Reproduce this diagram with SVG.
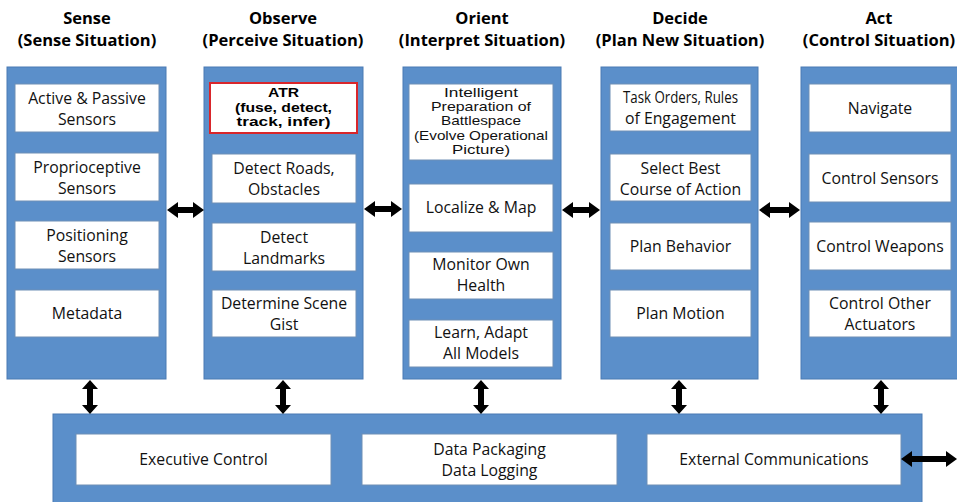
<svg xmlns="http://www.w3.org/2000/svg" width="957" height="502" viewBox="0 0 957 502">
<style>
.panel{fill:#5b8fca;stroke:#4a7ab3;stroke-width:1}
.box{fill:#fff;stroke:#6f8fb5;stroke-width:1}
.atr{fill:#fff;stroke:#d9262b;stroke-width:2}
.title{font-family:"Open Sans","Liberation Sans",sans-serif;font-weight:bold;font-size:16.5px;fill:#000;text-anchor:middle}
.t{font-family:"Open Sans","Liberation Sans",sans-serif;font-size:15.8px;fill:#111;text-anchor:middle}
.ts{font-family:"Liberation Sans",Arial,sans-serif;font-size:12.2px;fill:#111;text-anchor:middle}
.tb{font-family:"Liberation Sans",Arial,sans-serif;font-weight:bold;font-size:12.5px;fill:#000;text-anchor:middle}
.arr{fill:#000}
</style>
<rect width="957" height="502" fill="#fff"/>

<g id="sense">
<text class="title" x="87" y="24">Sense</text>
<text class="title" x="87" y="46">(Sense Situation)</text>
<rect class="panel" x="7" y="67" width="159" height="312"/>
<rect class="box" x="15" y="84" width="144" height="48"/>
<text class="t" x="87" y="104">Active &amp; Passive</text>
<text class="t" x="87" y="125">Sensors</text>
<rect class="box" x="15" y="153" width="144" height="48"/>
<text class="t" x="87" y="173">Proprioceptive</text>
<text class="t" x="87" y="194">Sensors</text>
<rect class="box" x="15" y="221" width="144" height="48"/>
<text class="t" x="87" y="241">Positioning</text>
<text class="t" x="87" y="262">Sensors</text>
<rect class="box" x="15" y="290" width="144" height="47"/>
<text class="t" x="87" y="319">Metadata</text>
</g>

<g id="observe">
<text class="title" x="283" y="24">Observe</text>
<text class="title" x="283" y="46">(Perceive Situation)</text>
<rect class="panel" x="204" y="67" width="159" height="312"/>
<rect class="atr" x="210" y="83" width="147" height="50"/>
<text class="tb"><tspan x="283.5" y="97" textLength="31" lengthAdjust="spacingAndGlyphs">ATR</tspan><tspan x="283.5" y="111.5" textLength="97" lengthAdjust="spacingAndGlyphs">(fuse, detect,</tspan><tspan x="283.5" y="126" textLength="94" lengthAdjust="spacingAndGlyphs">track, infer)</tspan></text>
<rect class="box" x="212" y="154" width="144" height="49"/>
<text class="t" x="284" y="174">Detect Roads,</text>
<text class="t" x="284" y="195">Obstacles</text>
<rect class="box" x="212" y="223" width="144" height="48"/>
<text class="t" x="284" y="243">Detect</text>
<text class="t" x="284" y="264">Landmarks</text>
<rect class="box" x="212" y="290" width="144" height="47"/>
<text class="t" x="284" y="309">Determine Scene</text>
<text class="t" x="284" y="330">Gist</text>
</g>

<g id="orient">
<text class="title" x="482" y="24">Orient</text>
<text class="title" x="482" y="46">(Interpret Situation)</text>
<rect class="panel" x="403" y="67" width="158" height="312"/>
<rect class="box" x="409" y="84" width="144" height="76"/>
<text class="ts"><tspan x="481" y="97" textLength="74" lengthAdjust="spacingAndGlyphs">Intelligent</tspan><tspan x="481" y="111.2" textLength="100" lengthAdjust="spacingAndGlyphs">Preparation of</tspan><tspan x="481" y="125.4" textLength="80" lengthAdjust="spacingAndGlyphs">Battlespace</tspan><tspan x="481" y="139.6" textLength="134" lengthAdjust="spacingAndGlyphs">(Evolve Operational</tspan><tspan x="481" y="153.8" textLength="58" lengthAdjust="spacingAndGlyphs">Picture)</tspan></text>
<rect class="box" x="409" y="184" width="144" height="48"/>
<text class="t" x="481" y="213">Localize &amp; Map</text>
<rect class="box" x="409" y="252" width="144" height="47"/>
<text class="t" x="481" y="270">Monitor Own</text>
<text class="t" x="481" y="291">Health</text>
<rect class="box" x="409" y="320" width="144" height="47"/>
<text class="t" x="481" y="338">Learn, Adapt</text>
<text class="t" x="481" y="359">All Models</text>
</g>

<g id="decide">
<text class="title" x="680" y="24">Decide</text>
<text class="title" x="680" y="46">(Plan New Situation)</text>
<rect class="panel" x="601" y="67" width="157" height="312"/>
<rect class="box" x="610" y="84" width="141" height="47"/>
<text class="t" x="680.5" y="103" textLength="115" lengthAdjust="spacingAndGlyphs">Task Orders, Rules</text>
<text class="t" x="680.5" y="124">of Engagement</text>
<rect class="box" x="610" y="154" width="141" height="47"/>
<text class="t" x="680.5" y="174">Select Best</text>
<text class="t" x="680.5" y="195">Course of Action</text>
<rect class="box" x="610" y="223" width="141" height="47"/>
<text class="t" x="680.5" y="252">Plan Behavior</text>
<rect class="box" x="610" y="290" width="141" height="47"/>
<text class="t" x="680.5" y="319">Plan Motion</text>
</g>

<g id="act">
<text class="title" x="879" y="24">Act</text>
<text class="title" x="879" y="46">(Control Situation)</text>
<rect class="panel" x="801" y="67" width="160" height="312"/>
<rect class="box" x="809" y="84" width="142" height="48"/>
<text class="t" x="880" y="114">Navigate</text>
<rect class="box" x="809" y="154" width="142" height="48"/>
<text class="t" x="880" y="184">Control Sensors</text>
<rect class="box" x="809" y="222" width="142" height="48"/>
<text class="t" x="880" y="252">Control Weapons</text>
<rect class="box" x="809" y="290" width="142" height="47"/>
<text class="t" x="880" y="309">Control Other</text>
<text class="t" x="880" y="330">Actuators</text>
</g>

<g id="bottom">
<rect class="panel" x="53" y="414" width="869" height="92"/>
</g>
<g id="executive-control">
<rect class="box" x="76" y="434" width="255" height="51"/>
<text class="t" x="203.5" y="465">Executive Control</text>
</g>
<g id="data-packaging">
<rect class="box" x="362" y="434" width="255" height="51"/>
<text class="t" x="489.5" y="455">Data Packaging</text>
<text class="t" x="489.5" y="476">Data Logging</text>
</g>
<g id="external-communications">
<rect class="box" x="647" y="434" width="254" height="51"/>
<text class="t" x="774" y="465">External Communications</text>
</g>

<g id="connectors" class="arr">
<polygon points="167,210 178,202 178,207 193,207 193,202 204,210 193,218 193,213 178,213 178,218"/>
<polygon points="364,209 375,201 375,206 391,206 391,201 402,209 391,217 391,212 375,212 375,217"/>
<polygon points="562,210 573,202 573,207 589,207 589,202 600,210 589,218 589,213 573,213 573,218"/>
<polygon points="759,210 770,202 770,207 789,207 789,202 800,210 789,218 789,213 770,213 770,218"/>
<polygon points="901,459 912,451 912,456 946,456 946,451 957,459 946,467 946,462 912,462 912,467"/>
<polygon points="90,380 98,389 93,389 93,405 98,405 90,414 82,405 87,405 87,389 82,389"/>
<polygon points="283,380 291,389 286,389 286,405 291,405 283,414 275,405 280,405 280,389 275,389"/>
<polygon points="481,380 489,389 484,389 484,405 489,405 481,414 473,405 478,405 478,389 473,389"/>
<polygon points="679,380 687,389 682,389 682,405 687,405 679,414 671,405 676,405 676,389 671,389"/>
<polygon points="881,380 889,389 884,389 884,405 889,405 881,414 873,405 878,405 878,389 873,389"/>
</g>
</svg>
